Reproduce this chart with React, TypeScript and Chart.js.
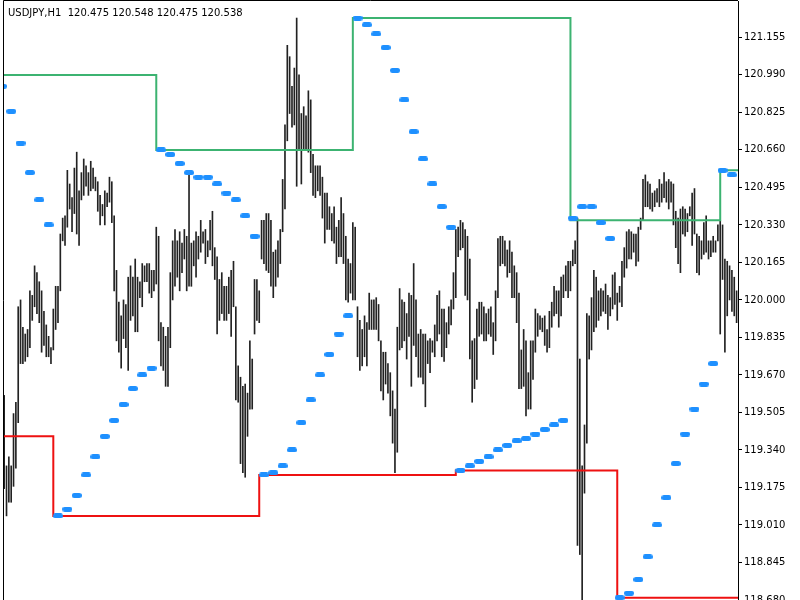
import React, { useEffect, useRef } from "react";
import { Chart, registerables } from "chart.js";

Chart.register(...registerables);

const symbolTitle = "USDJPY,H1  120.475 120.548 120.475 120.538";

const yTicks = [118.68, 118.845, 119.01, 119.175, 119.34, 119.505, 119.67, 119.835, 120.0, 120.165, 120.33, 120.495, 120.66, 120.825, 120.99, 121.155];

const highs = [
  119.58, 119.27, 119.31, 119.27, 119.50, 119.55, 119.97, 120.00, 119.88, 119.85,
  119.87, 120.04, 120.02, 120.15, 120.12, 120.08, 120.04, 119.95, 119.89, 119.84,
  119.79, 119.96, 120.06, 120.06, 120.29, 120.36, 120.37, 120.57, 120.51, 120.45,
  120.58, 120.65, 120.48, 120.56, 120.62, 120.59, 120.56, 120.61, 120.58, 120.54,
  120.52, 120.46, 120.42, 120.48, 120.47, 120.54, 120.52, 120.37, 120.13, 119.99,
  119.93, 120.00, 119.98, 120.10, 120.15, 120.10, 120.18, 120.10, 120.08, 120.16,
  120.15, 120.16, 120.16, 120.13, 120.13, 120.32, 120.28, 119.90, 119.88, 119.84,
  119.88, 120.12, 120.26, 120.31, 120.26, 120.30, 120.25, 120.31, 120.28, 120.56,
  120.25, 120.26, 120.30, 120.28, 120.35, 120.30, 120.31, 120.26, 120.35, 120.39,
  120.23, 120.19, 120.09, 120.12, 120.06, 120.06, 120.10, 120.13, 120.17, 119.97,
  119.71, 119.66, 119.62, 119.63, 119.59, 119.82, 119.74, 120.09, 120.09, 120.04,
  120.35, 120.35, 120.38, 120.38, 120.35, 120.21, 120.22, 120.26, 120.31, 120.53,
  120.77, 121.12, 121.07, 120.94, 121.02, 121.24, 120.99, 120.82, 120.85, 120.81,
  120.92, 120.88, 120.64, 120.59, 120.59, 120.59, 120.54, 120.47, 120.47, 120.41,
  120.38, 120.41, 120.32, 120.35, 120.45, 120.38, 120.28, 120.18, 120.16, 120.34,
  120.32, 119.97, 119.91, 119.87, 119.93, 119.90, 120.03, 120.00, 120.00, 120.01,
  119.98, 119.82, 119.77, 119.77, 119.72, 119.68, 119.60, 119.52, 119.88, 120.05,
  120.00, 119.99, 119.94, 120.03, 120.02, 120.16, 120.00, 119.85, 119.87, 119.85,
  119.85, 119.82, 119.83, 119.82, 119.89, 120.02, 120.04, 119.96, 119.96, 119.90,
  119.97, 120.00, 120.12, 120.31, 120.32, 120.35, 120.34, 120.31, 120.28, 120.18,
  119.82, 119.83, 119.96, 119.99, 119.99, 119.97, 119.94, 119.96, 119.97, 119.90,
  120.04, 120.27, 120.28, 120.28, 120.26, 120.22, 120.26, 120.21, 120.15, 120.12,
  120.03, 119.78, 119.87, 119.82, 119.68, 119.82, 119.82, 119.96, 119.94, 119.93,
  119.92, 119.93, 119.87, 119.95, 119.99, 120.06, 120.04, 120.04, 120.10, 120.11,
  120.15, 120.17, 120.17, 120.22, 120.26, 120.36, 119.74, 119.27, 119.45, 119.94,
  119.93, 120.01, 120.13, 120.10, 120.04, 120.05, 120.04, 120.07, 120.02, 120.01,
  120.11, 120.12, 120.03, 120.06, 120.17, 120.23, 120.30, 120.31, 120.30, 120.29,
  120.29, 120.32, 120.36, 120.53, 120.55, 120.52, 120.51, 120.47, 120.48, 120.49,
  120.53, 120.51, 120.56, 120.52, 120.53, 120.52, 120.51, 120.39, 120.36, 120.40,
  120.41, 120.40, 120.38, 120.41, 120.47, 120.49, 120.29, 120.28, 120.26, 120.34,
  120.37, 120.26, 120.26, 120.28, 120.26, 120.33, 120.35, 120.33, 120.18, 120.17,
  120.15, 120.13, 120.10, 120.04,
];

const lows = [
  119.17, 119.05, 119.11, 119.11, 119.18, 119.26, 119.46, 119.72, 119.72, 119.73,
  119.75, 119.79, 119.91, 119.97, 119.94, 119.90, 119.77, 119.80, 119.75, 119.75,
  119.72, 119.78, 119.87, 119.90, 120.04, 120.26, 120.24, 120.32, 120.40, 120.30,
  120.38, 120.29, 120.24, 120.44, 120.46, 120.50, 120.46, 120.48, 120.49, 120.48,
  120.39, 120.33, 120.37, 120.33, 120.41, 120.43, 120.34, 120.04, 119.82, 119.77,
  119.70, 119.83, 119.79, 119.69, 119.91, 119.93, 119.86, 119.86, 120.01, 119.97,
  120.08, 120.08, 120.03, 120.01, 120.04, 120.07, 119.82, 119.71, 119.69, 119.62,
  119.62, 119.79, 120.00, 120.06, 120.10, 120.04, 120.12, 120.18, 120.04, 120.06,
  120.06, 120.15, 120.10, 120.18, 120.21, 120.25, 120.16, 120.19, 120.22, 120.15,
  120.09, 119.85, 119.91, 119.94, 119.91, 119.91, 119.94, 119.84, 119.97, 119.56,
  119.55, 119.28, 119.24, 119.22, 119.40, 119.52, 119.52, 119.85, 119.91, 119.90,
  120.18, 120.16, 120.13, 120.12, 120.06, 120.01, 120.06, 120.10, 120.16, 120.30,
  120.40, 120.70, 120.82, 120.76, 120.77, 120.50, 120.66, 120.51, 120.66, 120.66,
  120.65, 120.56, 120.46, 120.45, 120.48, 120.46, 120.36, 120.25, 120.31, 120.31,
  120.26, 120.25, 120.16, 120.19, 120.19, 120.16, 120.00, 119.99, 120.03, 120.00,
  120.00, 119.75, 119.69, 119.71, 119.75, 119.71, 119.87, 119.87, 119.87, 119.87,
  119.82, 119.60, 119.56, 119.63, 119.59, 119.49, 119.37, 119.24, 119.33, 119.78,
  119.79, 119.82, 119.74, 119.84, 119.62, 119.80, 119.75, 119.66, 119.66, 119.63,
  119.53, 119.72, 119.68, 119.77, 119.75, 119.82, 119.85, 119.75, 119.73, 119.79,
  119.85, 119.89, 119.96, 120.01, 120.19, 120.22, 120.23, 120.02, 120.00, 119.74,
  119.55, 119.61, 119.65, 119.84, 119.85, 119.82, 119.82, 119.85, 119.84, 119.76,
  119.82, 120.01, 120.15, 120.16, 120.15, 120.10, 120.12, 120.01, 120.01, 119.90,
  119.61, 119.61, 119.62, 119.49, 119.52, 119.52, 119.65, 119.77, 119.84, 119.87,
  119.86, 119.80, 119.77, 119.79, 119.88, 119.93, 119.94, 119.88, 119.93, 120.01,
  120.04, 120.01, 120.04, 120.15, 120.16, 118.92, 118.88, 118.60, 119.15, 119.37,
  119.74, 119.78, 119.86, 119.88, 119.91, 119.93, 119.95, 119.94, 119.87, 119.93,
  119.96, 119.98, 119.91, 119.99, 119.97, 120.10, 120.14, 120.18, 120.18, 120.21,
  120.15, 120.17, 120.31, 120.35, 120.41, 120.41, 120.40, 120.39, 120.41, 120.43,
  120.41, 120.43, 120.45, 120.43, 120.40, 120.43, 120.33, 120.23, 120.16, 120.12,
  120.29, 120.28, 120.30, 120.37, 120.24, 120.29, 120.12, 120.11, 120.18, 120.20,
  120.21, 120.18, 120.19, 120.21, 120.21, 120.26, 119.85, 120.09, 119.77, 119.93,
  120.00, 119.95, 119.93, 119.90,
];

const sarIdx = [
  -1, 3, 7, 11, 15, 19, 23, 27, 31, 35, 39, 43, 47, 51, 55, 59, 63, 67, 71, 75,
  79, 83, 87, 91, 95, 99, 103, 107, 111, 115, 119, 123, 127, 131, 135, 139, 143, 147, 151, 155,
  159, 163, 167, 171, 175, 179, 183, 187, 191, 195, 199, 203, 207, 211, 215, 219, 223, 227, 231, 235,
  239, 243, 247, 251, 255, 259, 263, 267, 271, 275, 279, 283, 287, 291, 295, 299, 303, 307, 311,
];

const sarVal = [
  120.94, 120.83, 120.69, 120.56, 120.44, 120.33, 119.05, 119.08, 119.14, 119.23, 119.31, 119.40, 119.47, 119.54, 119.61, 119.67, 119.70, 120.66, 120.64, 120.60,
  120.56, 120.54, 120.54, 120.51, 120.47, 120.44, 120.37, 120.28, 119.23, 119.24, 119.27, 119.34, 119.46, 119.56, 119.67, 119.76, 119.85, 119.93, 121.24, 121.21,
  121.17, 121.11, 121.01, 120.88, 120.74, 120.62, 120.51, 120.41, 120.32, 119.25, 119.27, 119.29, 119.31, 119.34, 119.36, 119.38, 119.39, 119.41, 119.43, 119.45,
  119.47, 120.36, 120.41, 120.41, 120.34, 120.27, 118.69, 118.71, 118.77, 118.87, 119.01, 119.13, 119.28, 119.41, 119.52, 119.63, 119.72, 120.57, 120.55,
];

const upperIdx = [-1, 65, 149, 242, 306, 314];
const upperVal = [120.99, 120.66, 121.24, 120.35, 120.57, 120.57];
const lowerIdx = [-1, 21, 109, 193, 262, 314];
const lowerVal = [119.40, 119.05, 119.23, 119.25, 118.69, 118.69];

function makeDot(): HTMLCanvasElement {
  const c = document.createElement("canvas");
  const w = 10, h = 5, r = 2.5;
  c.width = w;
  c.height = h;
  const g = c.getContext("2d")!;
  g.fillStyle = "#1e90ff";
  g.beginPath();
  g.moveTo(r, 0);
  g.lineTo(w - r, 0);
  g.arc(w - r, r, r, -Math.PI / 2, Math.PI / 2);
  g.lineTo(r, h);
  g.arc(r, r, r, Math.PI / 2, (3 * Math.PI) / 2);
  g.closePath();
  g.fill();
  return c;
}

const framePlugin = {
  id: "frame",
  afterDraw(chart: any) {
    const { ctx, chartArea } = chart;
    ctx.save();
    ctx.strokeStyle = "#000";
    ctx.lineWidth = 1;
    ctx.beginPath();
    ctx.moveTo(chartArea.left + 0.5, chart.height);
    ctx.lineTo(chartArea.left + 0.5, chartArea.top - 0.5);
    ctx.lineTo(chartArea.right, chartArea.top - 0.5);
    ctx.stroke();
    ctx.fillStyle = "#000";
    ctx.font = '10px "DejaVu Sans"';
    ctx.textBaseline = "alphabetic";
    ctx.textAlign = "left";
    ctx.fillText(symbolTitle, 8, 16);
    ctx.restore();
  },
};

export default function App() {
  const ref = useRef<HTMLCanvasElement>(null);
  useEffect(() => {
    const canvas = ref.current!;
    const dot = makeDot();
    const chart = new Chart(canvas, {
      type: "bar",
      data: {
        datasets: [
          {
            type: "line",
            data: sarIdx.map((x, i) => ({ x, y: sarVal[i] })),
            showLine: false,
            pointStyle: dot as any,
            pointRadius: 5,
            order: 1,
          } as any,
          {
            type: "line",
            data: upperIdx.map((x, i) => ({ x, y: upperVal[i] })),
            stepped: "before",
            borderColor: "#3cb371",
            borderWidth: 2,
            pointRadius: 0,
            order: 2,
          } as any,
          {
            type: "line",
            data: lowerIdx.map((x, i) => ({ x, y: lowerVal[i] })),
            stepped: "before",
            borderColor: "#ee1111",
            borderWidth: 2,
            pointRadius: 0,
            order: 2,
          } as any,
          {
            type: "bar",
            data: highs.map((h, i) => ({ x: i, y: [lows[i], h] })),
            backgroundColor: "#222",
            borderWidth: 0,
            barThickness: 1,
            grouped: false,
            order: 3,
          } as any,
        ],
      },
      options: {
        responsive: false,
        devicePixelRatio: 1,
        animation: false,
        events: [],
        layout: { autoPadding: false, padding: { left: 3, top: 1, right: 0, bottom: 0 } },
        plugins: { legend: { display: false }, tooltip: { enabled: false } },
        scales: {
          x: {
            type: "linear",
            display: false,
            offset: false,
            min: -0.5,
            max: 313.6,
          },
          y: {
            type: "linear",
            position: "right",
            min: 118.68,
            max: 121.315,
            grid: { drawOnChartArea: false, drawTicks: true, tickLength: 4, color: "#000" },
            border: { display: true, color: "#000", width: 1 },
            ticks: {
              autoSkip: false,
              padding: 2,
              color: "#000",
              font: { family: "DejaVu Sans", size: 10 },
              callback: (v: any) => Number(v).toFixed(3),
            },
            afterBuildTicks: (scale: any) => {
              scale.ticks = yTicks.map((v) => ({ value: v }));
            },
            afterFit: (scale: any) => {
              scale.width = 62;
              scale.paddingTop = 0;
              scale.paddingBottom = 0;
            },
          },
        },
      } as any,
      plugins: [framePlugin],
    });
    return () => chart.destroy();
  }, []);
  return (
    <div style={{ position: "fixed", left: 0, top: 0, width: 800, height: 600, background: "#fff" }}>
      <canvas ref={ref} width={800} height={600} style={{ display: "block" }} />
    </div>
  );
}
